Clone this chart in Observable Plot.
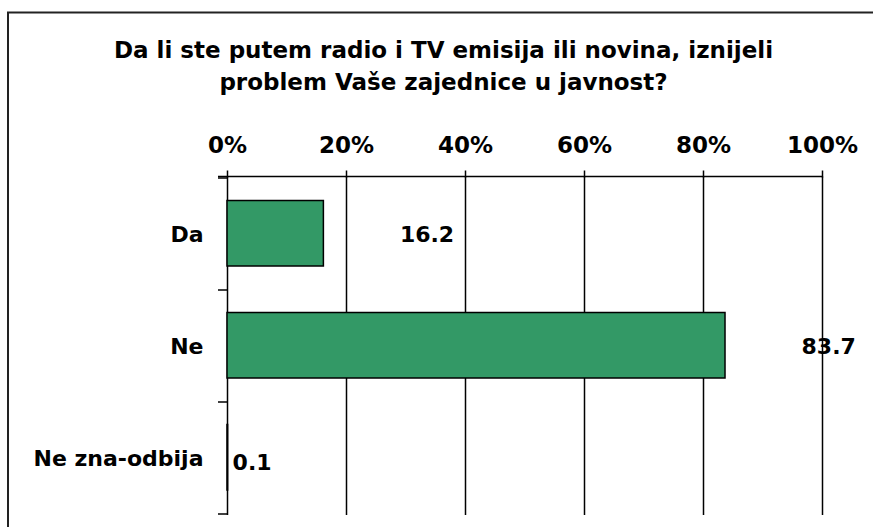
<!DOCTYPE html>
<html><head><meta charset="utf-8">
<script src="https://cdn.jsdelivr.net/npm/d3@7"></script>
<script src="https://cdn.jsdelivr.net/npm/@observablehq/plot@0.6"></script>
<style>body{margin:0;background:#fff} #chart svg{display:block}</style>
</head><body><div id="chart"></div>
<script>
const titleLines = ["Da li ste putem radio i TV emisija ili novina, iznijeli", "problem Vaše zajednice u javnost?"];
const categories = ["Da", "Ne", "Ne zna-odbija"];
const values = [16.2, 83.7, 0.1];
const xTicks = [0, 20, 40, 60, 80, 100];

const data = categories.map((c, i) => ({category: c, value: values[i]}));
const font = "'DejaVu Sans', Verdana, sans-serif";

function decorations(index, scales, vals, dims) {
  const g = d3.create("svg:g");
  const {x, y} = scales;
  const bw = y.bandwidth ? y.bandwidth() : 0;
  const x0 = x(0), x1 = x(100);
  const bounds = [...categories.map(c => y(c)), y(categories[categories.length - 1]) + bw];
  g.append("path").attr("d", `M8,${dims.height}V12.5H${dims.width}`)
    .attr("fill", "none").attr("stroke", "#222").attr("stroke-width", 2);
  g.append("line").attr("x1", x0 - 9).attr("x2", x1).attr("y1", dims.marginTop).attr("y2", dims.marginTop)
    .attr("stroke", "#000").attr("stroke-width", 1.5);
  for (const b of bounds) {
    g.append("line").attr("x1", x0 - 9).attr("x2", x0).attr("y1", b).attr("y2", b)
      .attr("stroke", "#000").attr("stroke-width", 1.5);
  }
  return g.node();
}

const chart = Plot.plot({
  width: 873, height: 527,
  marginLeft: 227, marginRight: 51, marginTop: 176.5, marginBottom: 12,
  style: {fontFamily: font, background: "#fff", color: "#000", overflow: "visible"},
  x: {domain: [0, 100]},
  y: {domain: categories, padding: 0},
  marks: [
    Plot.gridX(xTicks, {stroke: "#000", strokeOpacity: 1, strokeWidth: 1.5}),
    Plot.barX(data, {x: "value", y: "category", fill: "#339966", stroke: "#000", strokeWidth: 1.5, insetTop: 22.5, insetBottom: 24}),
    Plot.axisX(xTicks, {anchor: "top", tickSize: 7, tickPadding: 17, tickFormat: d => d + "%", fontSize: 23, fontWeight: "bold", stroke: "#000", strokeWidth: 1.5, label: null}),
    Plot.axisY({tickSize: 0, tickPadding: 24, fontSize: 22, fontWeight: "bold", label: null}),
    Plot.text(data.filter(d => d.value >= 1), {x: "value", y: "category", text: d => d.value.toFixed(1), textAnchor: "start", dx: 76, fontSize: 22, fontWeight: "bold"}),
    Plot.text(data.filter(d => d.value < 1), {x: "value", y: "category", text: d => d.value.toFixed(1), textAnchor: "start", dx: 4.5, dy: 4, fontSize: 22, fontWeight: "bold"}),
    Plot.text([titleLines.join("\n")], {frameAnchor: "top-left", textAnchor: "middle", lineAnchor: "middle", dx: 216, dy: -113.4, lineHeight: 32 / 23, fontSize: 23, fontWeight: "bold"}),
    decorations
  ]
});
document.getElementById("chart").appendChild(chart);
</script>
</body></html>
